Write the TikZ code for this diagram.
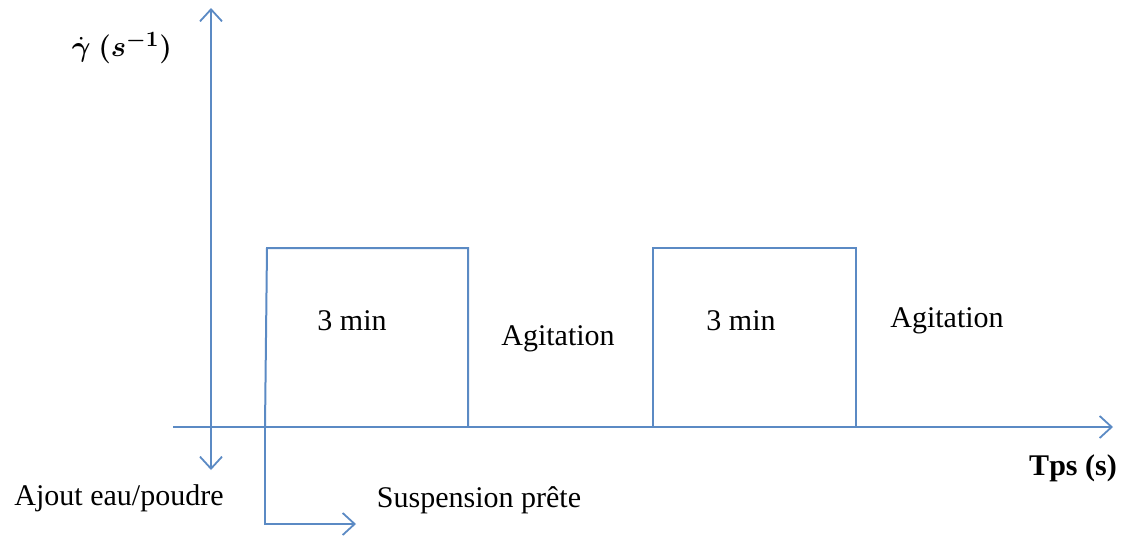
\documentclass[tikz,border=0pt]{standalone}
\usepackage{fontspec}
\usepackage{amsmath,bm}
\setmainfont{Liberation Serif}
\usetikzlibrary{arrows.meta,positioning}
\definecolor{axisblue}{RGB}{91,138,196}

\begin{document}
\begin{tikzpicture}[x=0.5pt,y=-0.5pt,
  axis/.style={draw=axisblue,line width=1pt,-{Straight Barb[length=6pt,width=11pt,line width=0.9pt]}},
  pulse/.style={draw=axisblue,line width=1pt},
  label/.style={font=\fontsize{15}{18}\selectfont,inner sep=0pt}]
  \useasboundingbox (0,0) rectangle (1121,538);

  % axes
  \coordinate (origin) at (211,427);
  \coordinate (ytop) at (211,8);
  \coordinate (ybot) at (211,470);
  \coordinate (xleft) at (173,427);
  \coordinate (xright) at (1113,427);
  \draw[axis] (origin) -- (ytop);
  \draw[axis] (origin) -- (ybot);
  \draw[axis] (xleft) -- (xright);

  % pulses
  \coordinate (start) at (265,427);
  \coordinate (ready) at (265,524);
  \coordinate (readyend) at (356,524);
  \draw[pulse,line width=1.4pt] (origin) -- (start);
  \draw[pulse] (start) -- (267,248) -- (468,248) -- (468,427);
  \draw[pulse] (653,427) -- (653,248) -- (856,248) -- (856,427);
  \draw[axis] (start) -- (ready) -- (readyend);

  % texts
  \node[label] (ylab) at (122,48) {$\bm{\dot{\gamma}\ (s^{-1})}$};
  \node[label] (xlab) at (1073,468) {\textbf{Tps (s)}};
  \node[label] (min1) at (352,321) {3 min};
  \node[label] (agit1) at (558,339) {Agitation};
  \node[label] (min2) at (741,321) {3 min};
  \node[label] (agit2) at (947,321) {Agitation};
  \node[label] (ajout) at (119,498) {Ajout eau/poudre};
  \node[label] (susp) at (479,500) {Suspension prête};
\end{tikzpicture}
\end{document}
